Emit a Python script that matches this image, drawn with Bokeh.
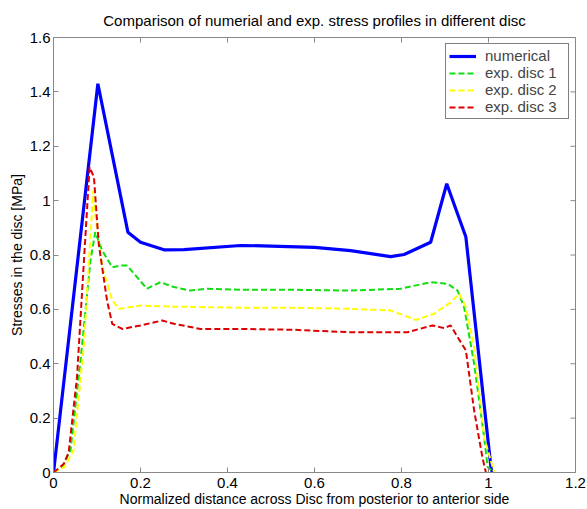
import math
from bokeh.plotting import figure
from bokeh.models import FixedTicker, Legend, LegendItem, Range1d
from bokeh.embed import file_html
from bokeh.resources import INLINE

# ---- data ----
num_x = [0.0, 0.102, 0.171, 0.2, 0.254, 0.3, 0.43, 0.5, 0.6, 0.683, 0.775, 0.806, 0.867, 0.904, 0.948, 1.006, 1.009]
num_y = [0.0, 1.43, 0.884, 0.847, 0.819, 0.82, 0.835, 0.833, 0.828, 0.816, 0.794, 0.802, 0.847, 1.062, 0.866, 0.014, 0.0]

d1_x = [0.0, 0.02, 0.039, 0.062, 0.085, 0.096, 0.112, 0.135, 0.154, 0.169, 0.215, 0.246, 0.277, 0.315, 0.354, 0.43, 0.55, 0.683, 0.798, 0.867, 0.906, 0.929, 0.944, 0.967, 0.99, 0.998, 1.013]
d1_y = [0.0, 0.02, 0.081, 0.41, 0.78, 0.884, 0.816, 0.755, 0.761, 0.761, 0.676, 0.70, 0.682, 0.669, 0.676, 0.672, 0.672, 0.669, 0.676, 0.70, 0.694, 0.669, 0.608, 0.40, 0.13, 0.02, 0.0]

d2_x = [0.0, 0.025, 0.046, 0.07, 0.088, 0.091, 0.093, 0.112, 0.135, 0.15, 0.2, 0.277, 0.43, 0.55, 0.683, 0.775, 0.833, 0.875, 0.913, 0.933, 0.948, 0.967, 0.99, 1.013]
d2_y = [0.0, 0.02, 0.081, 0.47, 0.95, 1.037, 0.988, 0.755, 0.633, 0.602, 0.614, 0.61, 0.606, 0.606, 0.602, 0.596, 0.561, 0.584, 0.626, 0.657, 0.608, 0.461, 0.13, 0.0]

d3_x = [0.0, 0.024, 0.035, 0.054, 0.07, 0.083, 0.093, 0.104, 0.123, 0.135, 0.158, 0.2, 0.25, 0.277, 0.338, 0.43, 0.55, 0.683, 0.814, 0.871, 0.898, 0.913, 0.929, 0.948, 0.967, 0.986, 0.994]
d3_y = [0.0, 0.032, 0.075, 0.35, 0.78, 1.123, 1.086, 0.841, 0.633, 0.547, 0.528, 0.541, 0.559, 0.547, 0.528, 0.528, 0.525, 0.516, 0.516, 0.541, 0.531, 0.541, 0.498, 0.449, 0.228, 0.056, 0.0]

x_ticks = [0, 0.2, 0.4, 0.6, 0.8, 1.0, 1.2]
x_tick_labels = ["0", "0.2", "0.4", "0.6", "0.8", "1", "1.2"]
y_ticks = [0, 0.2, 0.4, 0.6, 0.8, 1.0, 1.2, 1.4, 1.6]
y_tick_labels = ["0", "0.2", "0.4", "0.6", "0.8", "1", "1.2", "1.4", "1.6"]

series_names = ["numerical", "exp. disc 1", "exp. disc 2", "exp. disc 3"]

FONT = "Liberation Sans"
AXIS_COLOR = "#888888"
X_MAX = 1.2
Y_MAX = 1.6

p = figure(width=587, height=509, output_backend="svg", toolbar_location=None,
           x_range=Range1d(0, X_MAX), y_range=Range1d(0, Y_MAX),
           title="Comparison of numerial and exp. stress profiles in different disc",
           min_border_left=53, min_border_right=12, min_border_top=37, min_border_bottom=37)

p.title.align = "center"
p.title.text_font = FONT
p.title.text_font_size = "15px"
p.title.text_font_style = "normal"
p.title.text_color = "black"
p.title.offset = 0
p.title.standoff = 18

p.xgrid.visible = False
p.ygrid.visible = False
p.outline_line_color = AXIS_COLOR
p.outline_line_alpha = 1
p.background_fill_color = "white"

xo = {v: l for v, l in zip(x_ticks, x_tick_labels)}
yo = {v: l for v, l in zip(y_ticks, y_tick_labels)}

def style_axis(ax, ticks, overrides):
    ax.ticker = FixedTicker(ticks=ticks)
    ax.major_label_overrides = overrides
    ax.major_tick_in = 5
    ax.major_tick_out = 0
    ax.minor_tick_line_color = None
    ax.axis_line_color = AXIS_COLOR
    ax.major_tick_line_color = AXIS_COLOR
    ax.major_label_text_font = FONT
    ax.major_label_text_font_size = "15px"
    ax.major_label_text_color = "black"
    ax.axis_label_text_font = FONT
    ax.axis_label_text_font_size = "14px"
    ax.axis_label_text_font_style = "normal"
    ax.axis_label_text_color = "black"

style_axis(p.xaxis[0], x_ticks, xo)
style_axis(p.yaxis[0], y_ticks, yo)
p.xaxis[0].axis_label = "Normalized distance across Disc from posterior to anterior side"
p.yaxis[0].axis_label = "Stresses in the disc [MPa]"
p.xaxis[0].major_label_standoff = 5
p.xaxis[0].axis_label_standoff = 0
p.yaxis[0].major_label_standoff = 3
p.yaxis[0].axis_label_standoff = 2

# inward ticks on the top and right edges of the box (clipped to the frame)
p.scatter(x_ticks, [Y_MAX] * len(x_ticks), marker="dash", angle=math.pi / 2, size=10,
          line_color=AXIS_COLOR, line_width=1)
p.scatter([X_MAX] * len(y_ticks), y_ticks, marker="dash", size=10,
          line_color=AXIS_COLOR, line_width=1)

r0 = p.line(num_x, num_y, line_color="#0000ff", line_width=3.2)
r1 = p.line(d1_x, d1_y, line_color="#11dd11", line_width=2, line_dash="6 3")
r2 = p.line(d2_x, d2_y, line_color="#ffff00", line_width=2, line_dash="6 3")
r3 = p.line(d3_x, d3_y, line_color="#dd0000", line_width=2, line_dash="6 3")

legend = Legend(items=[LegendItem(label=n, renderers=[r]) for n, r in zip(series_names, [r0, r1, r2, r3])],
                location="top_right")
legend.label_text_font = FONT
legend.label_text_font_size = "15px"
legend.glyph_width = 27
legend.glyph_height = 16
legend.label_height = 16
legend.label_width = 80
legend.spacing = 0
legend.padding = 3
legend.margin = 6
legend.border_line_color = "black"
legend.border_line_width = 1
legend.background_fill_alpha = 1
legend.label_standoff = 9
p.add_layout(legend)

open("out.html", "w").write(file_html(p, INLINE))
